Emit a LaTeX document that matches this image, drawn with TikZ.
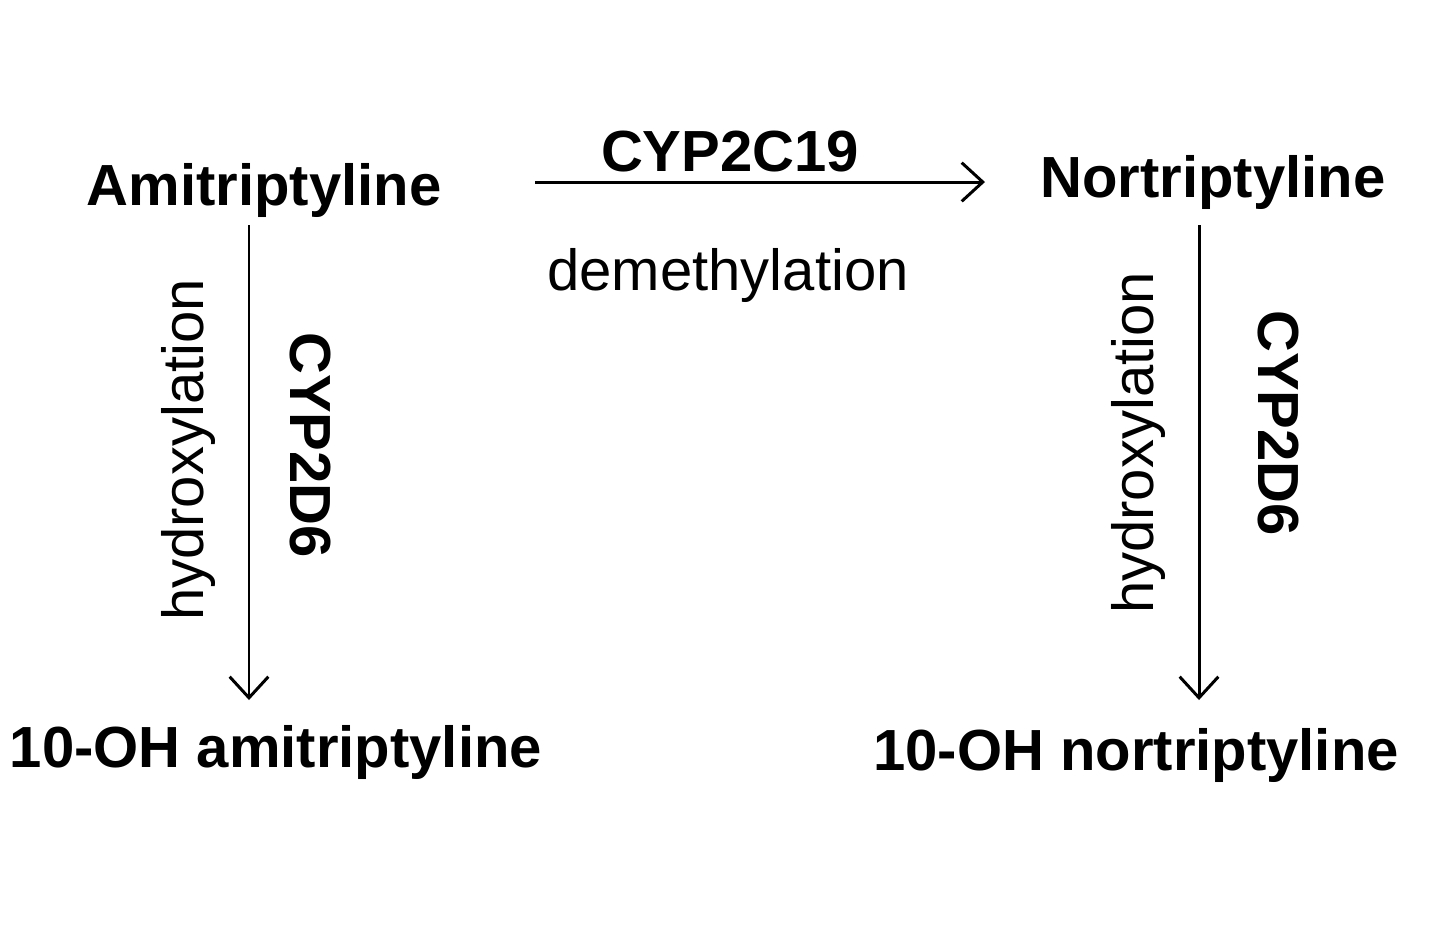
\documentclass[tikz,border=0pt]{standalone}
\usepackage{fontspec}
\setmainfont{Liberation Sans}
\usetikzlibrary{arrows.meta}
\tikzset{
    drug/.style={font=\fontsize{16.5}{19}\selectfont\bfseries, inner sep=0pt},
    enzyme/.style={font=\fontsize{16.5}{19}\selectfont\bfseries, inner sep=0pt},
    reaction/.style={font=\fontsize{16.5}{19}\selectfont, inner sep=0pt},
    path/.style={line width=0.85pt, -{Straight Barb[length=6pt, width=11pt, line width=0.85pt]}}
}
\begin{document}
\begin{tikzpicture}[x=0.01cm, y=-0.01cm]
    \useasboundingbox (0,0) rectangle (1440,950);

    % Drugs and metabolites
    \node[drug] (ami) at (264,190) {Amitriptyline};
    \node[drug] (nor) at (1213,182) {Nortriptyline};
    \node[drug] (ohami) at (276,752) {10-OH amitriptyline};
    \node[drug] (ohnor) at (1136,755) {10-OH nortriptyline};

    % Demethylation
    \coordinate (demA) at (535,182);
    \coordinate (demB) at (985,182);
    \draw[path] (demA) -- (demB);
    \node[enzyme] (cyp2c19) at (730,152) {CYP2C19};
    \node[reaction] (demeth) at (728,275) {demethylation};

    % Hydroxylation of amitriptyline
    \coordinate (hyaA) at (249,225);
    \coordinate (hyaB) at (249,700);
    \draw[path] (hyaA) -- (hyaB);
    \node[reaction, rotate=90] (hyda) at (188,450) {hydroxylation};
    \node[enzyme, rotate=-90] (cypa) at (310,445) {CYP2D6};

    % Hydroxylation of nortriptyline
    \coordinate (hynA) at (1199,225);
    \coordinate (hynB) at (1199,700);
    \draw[path] (hynA) -- (hynB);
    \node[reaction, rotate=90] (hydn) at (1138,443) {hydroxylation};
    \node[enzyme, rotate=-90] (cypn) at (1278,423) {CYP2D6};

\end{tikzpicture}
\end{document}
